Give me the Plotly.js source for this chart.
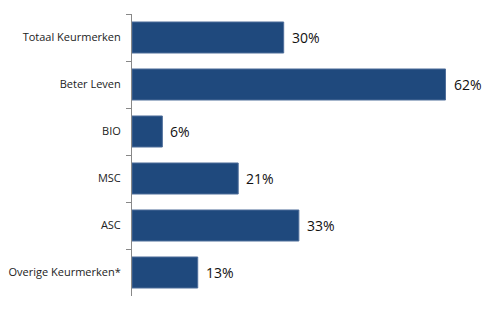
<!DOCTYPE html>
<html><head><meta charset="utf-8">
<script src="https://cdn.plot.ly/plotly-3.0.1.min.js"></script>
<style>html,body{margin:0;padding:0;background:#fff}#c{width:500px;height:310px}</style>
</head><body><div id="c"></div>
<script>
const categories = ["Totaal Keurmerken","Beter Leven","BIO","MSC","ASC","Overige Keurmerken*"];
const values = [30, 62, 6, 21, 33, 13];
const valueLabels = ["30%","62%","6%","21%","33%","13%"];

const trace = {
  type: "bar", orientation: "h",
  y: categories, x: values,
  marker: {color: "#1F497D", line: {color: "#4F6E9A", width: 1}},
  width: 0.66,
  hoverinfo: "none"
};
const annotations = categories.map((c,i)=>({
  x: values[i], y: c, xref: "x", yref: "y",
  text: valueLabels[i], showarrow: false,
  xanchor: "left", xshift: 6, yshift: 0,
  font: {family: "Open Sans, Liberation Sans, sans-serif", size: 14, color: "#111"}
}));
const layout = {
  width: 500, height: 310,
  margin: {l: 132, r: 10, t: 14, b: 14},
  paper_bgcolor: "#fff", plot_bgcolor: "#fff",
  showlegend: false,
  xaxis: {range: [0, 70.8], visible: false, fixedrange: true},
  yaxis: {
    autorange: "reversed", showline: true, linecolor: "#888", linewidth: 1,
    ticks: "outside", tickson: "boundaries", ticklen: 5, tickcolor: "#888",
    showgrid: false, zeroline: false, ticklabelstandoff: 8,
    tickfont: {family: "Open Sans, Liberation Sans, sans-serif", size: 11, color: "#222"}
  },
  annotations: annotations
};
Plotly.newPlot("c", [trace], layout, {displayModeBar: false, staticPlot: true});
</script></body></html>
